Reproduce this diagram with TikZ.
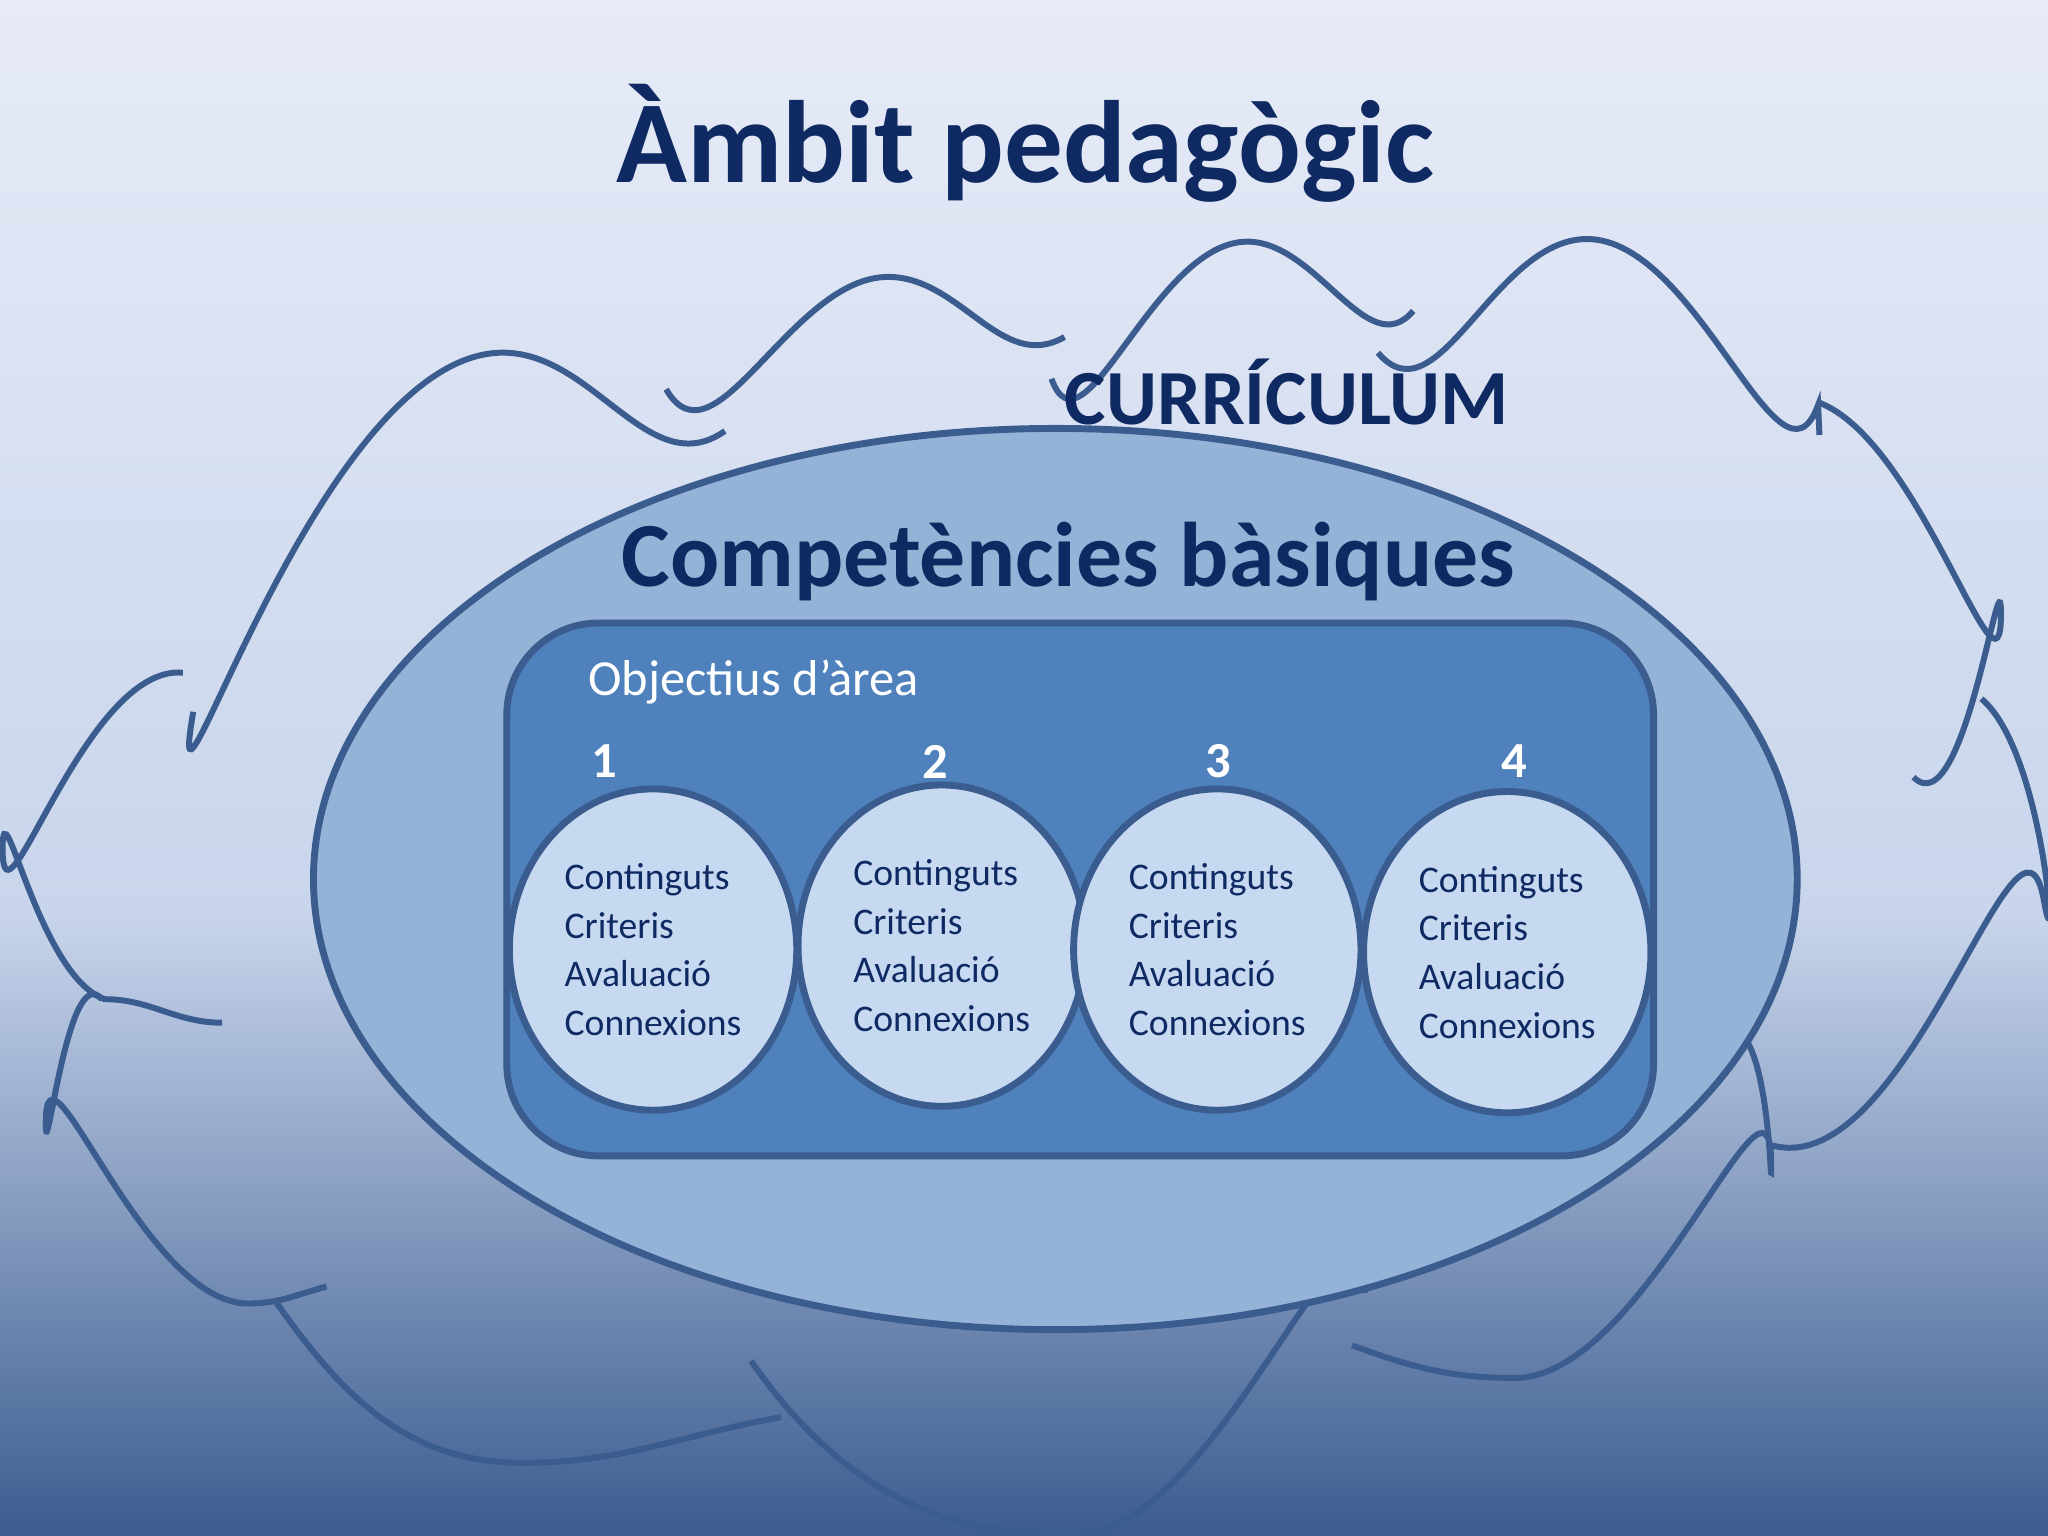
\documentclass[tikz,border=0pt]{standalone}
\usepackage{fontspec}
\setmainfont{Carlito}
\usetikzlibrary{shapes.geometric}
\definecolor{navy}{HTML}{0F2A62}
\definecolor{edge}{HTML}{3A5C8E}
\definecolor{ellf}{HTML}{95B3D7}
\definecolor{boxf}{HTML}{4F81BD}
\definecolor{circf}{HTML}{C6D9F1}
\definecolor{bgtop}{RGB}{231,235,247}
\definecolor{bgmid}{RGB}{200,213,236}
\definecolor{bgbot}{RGB}{60,92,143}
\tikzset{
  cl/.style={draw=edge,line width=1.3pt},
  inner/.style={ellipse,draw=edge,line width=1.5pt,fill=circf,minimum width=2.2cm,minimum height=2.46cm,inner sep=0pt,align=left,font=\fontsize{8.2}{10.6}\selectfont,text=navy},
  num/.style={font=\bfseries\fontsize{11}{12}\selectfont,text=white}
}
\begin{document}
\begin{tikzpicture}[x=0.1mm,y=-0.1mm]
\useasboundingbox (0,0) rectangle (1568,1176);
\fill[top color=bgtop,bottom color=bgmid] (0,0) rectangle (1568,700);
\fill[top color=bgmid,bottom color=bgbot] (0,699) rectangle (1568,1176);
% cloud
\draw[cl] (148,545) to[out=-100,in=-180] (385,270) to[out=0,in=-145] (555,330);
\draw[cl] (510,298) to[out=-60,in=-180] (680,212) to[out=0,in=-150] (815,258);
\draw[cl] (805,290) to[out=-70,in=-180] (955,185) to[out=0,in=-130] (1082,238);
\draw[cl] (1055,270) to[out=-50,in=-180] (1215,183) to[out=0,in=-110] (1392,310) -- (1393,333);
\draw[cl] (1392,308) to[out=-20,in=-90] (1532,470) to[out=90,in=-45] (1465,595);
\draw[cl] (1517,535) to[out=-40,in=-80] (1565,690) to[out=100,in=-15] (1357,877);
\draw[cl] (1338,798) to[out=-60,in=-90] (1356,890) to[out=90,in=0] (1160,1055) to[out=180,in=-20] (1035,1030);
\draw[cl] (1045,990) to[out=95,in=0] (820,1176) to[out=180,in=-55] (575,1042);
\draw[cl] (598,1085) to[out=-170,in=0] (400,1120) to[out=180,in=-55] (210,995);
\draw[cl] (250,985) to[out=-165,in=0] (190,998) to[out=180,in=90] (35,860) to[out=-90,in=-230] (78,765);
\draw[cl] (170,783) to[out=180,in=0] (80,765) to[out=160,in=90] (2,650) to[out=-90,in=-185] (140,515);
% ellipse
\draw[draw=edge,line width=1.5pt,fill=ellf] (808,673) ellipse [x radius=568,y radius=345];
\node[font=\bfseries\fontsize{20}{24}\selectfont,text=navy] (cb) at (818,430) {Competències bàsiques};
\node[font=\bfseries\fontsize{17}{20}\selectfont,text=navy] (cur) at (985,300) {CURRÍCULUM};
\node[font=\bfseries\fontsize{25.5}{30}\selectfont,text=navy] (title) at (785,110) {Àmbit pedagògic};
\draw[draw=edge,line width=1.5pt,fill=boxf,rounded corners=20] (388,477) rectangle (1266,885);
\node[anchor=west,text=white,font=\fontsize{11}{13}\selectfont] (obj) at (438,522) {Objectius d’àrea};
\node[num] (n1) at (463,583) {1};
\node[num] (n2) at (716,583) {2};
\node[num] (n3) at (933,583) {3};
\node[num] (n4) at (1159,583) {4};
\node[inner] (c1) at (500,727) {Continguts\\Criteris\\Avaluació\\Connexions};
\node[inner] (c2) at (721,724) {Continguts\\Criteris\\Avaluació\\Connexions};
\node[inner] (c3) at (932,727) {Continguts\\Criteris\\Avaluació\\Connexions};
\node[inner] (c4) at (1154,729) {Continguts\\Criteris\\Avaluació\\Connexions};
\end{tikzpicture}
\end{document}
